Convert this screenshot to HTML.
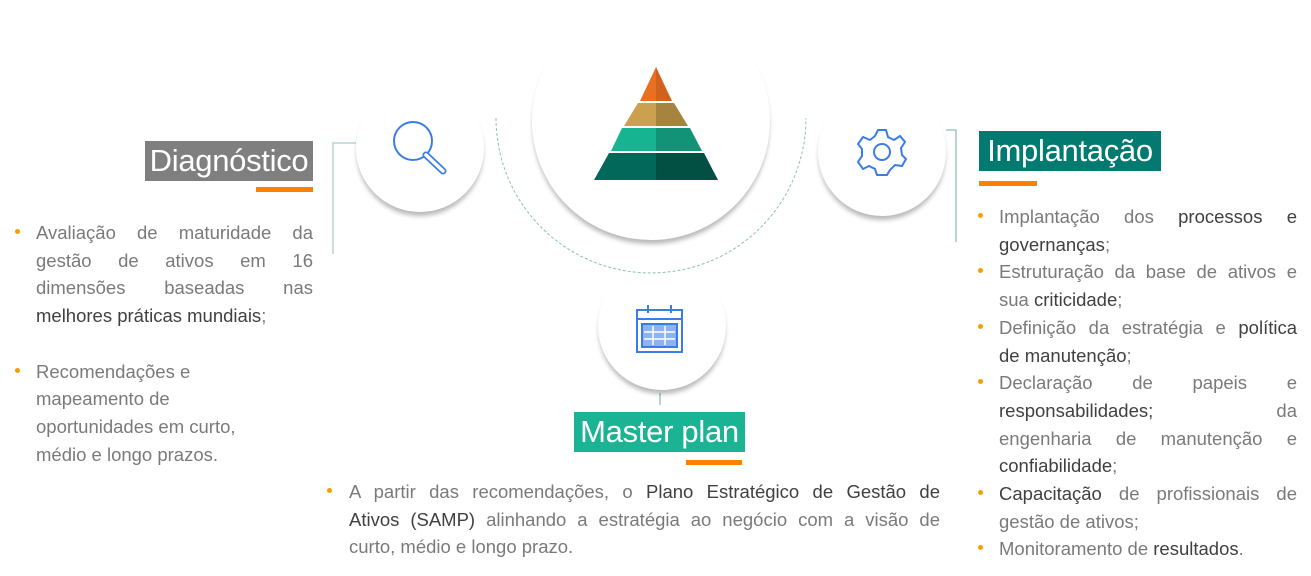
<!DOCTYPE html>
<html><head><meta charset="utf-8"><style>
body{margin:0;width:1311px;height:576px;background:#fff;position:relative;overflow:hidden;font-family:"Liberation Sans",sans-serif}
.abs{position:absolute}
.circ{position:absolute;border-radius:50%;background:#fff;box-shadow:0 5px 5px -1px rgba(0,0,0,.28)}
.list{position:absolute;color:#7a7a7a;font-size:18.5px;line-height:27.7px}
.l{text-align:justify;text-align-last:justify;white-space:nowrap}
.l.n{text-align-last:left}
b{font-weight:normal;color:#404040}
.dot{position:absolute;width:5px;height:5px;border-radius:50%;background:#f5a000}
.title{position:absolute;color:#fff;font-size:31px;line-height:40px;padding:0 2px;white-space:nowrap;overflow:hidden;letter-spacing:-0.3px;text-align:center}
.bar{position:absolute;background:#ff7f00;height:5px}
</style></head><body>
<svg class="abs" style="left:0;top:0" width="1311" height="576">
<polyline points="356,143 333,143 333,254" fill="none" stroke="#a9cdc6" stroke-width="1.3"/>
<polyline points="946,130 956,130 956,242" fill="none" stroke="#8fbfb5" stroke-width="1.3"/>
<line x1="660" y1="393" x2="660" y2="405" stroke="#8fbfb5" stroke-width="1.3"/>
</svg>
<div class="circ" style="left:532px;top:2px;width:238px;height:238px"></div>
<div class="circ" style="left:356px;top:84px;width:128px;height:128px"></div>
<div class="circ" style="left:818px;top:88px;width:128px;height:128px"></div>
<div class="circ" style="left:598px;top:262px;width:128px;height:128px"></div>
<svg class="abs" style="left:0;top:0" width="1311" height="576">
<path d="M496 118 A155 155 0 0 0 806 118" fill="none" stroke="#8fbfb5" stroke-width="1" stroke-dasharray="3,2"/>
<polygon points="656,67 640,101 656,101" fill="#e87020"/><polygon points="656,67 672,101 656,101" fill="#d0621d"/>
<polygon points="638,103 624,126 656,126 656,103" fill="#cba14f"/><polygon points="656,103 674,103 688,126 656,126" fill="#a6833f"/>
<polygon points="622,128 611,151 656,151 656,128" fill="#17b491"/><polygon points="656,128 690,128 702,151 656,151" fill="#129277"/>
<polygon points="609,153 594,180 656,180 656,153" fill="#02695a"/><polygon points="656,153 704,153 718,180 656,180" fill="#024f44"/>
<circle cx="413" cy="141" r="19" fill="none" stroke="#3b7de8" stroke-width="2"/>
<line x1="426" y1="155" x2="443" y2="171" stroke="#3b7de8" stroke-width="7" stroke-linecap="round"/>
<line x1="426" y1="155" x2="443" y2="171" stroke="#fff" stroke-width="3.5" stroke-linecap="round"/>
<g transform="translate(882,152)" fill="none" stroke="#3b7de8" stroke-width="2">
<path d="M-4,-22 L4,-22 L6,-15 L12,-12 L18,-16 L23,-10 L19,-4 L20,3 L24,7 L20,14 L13,13 L8,18 L5,23 L-5,23 L-7,17 L-13,14 L-19,17 L-24,10 L-20,4 L-20,-3 L-24,-8 L-19,-15 L-12,-12 L-7,-16 Z"/>
<circle r="8"/></g>
<g stroke="#3b7de8" fill="none" stroke-width="2">
<rect x="637" y="310" width="45" height="42"/><line x1="637" y1="319" x2="682" y2="319"/>
<line x1="648" y1="305" x2="648" y2="313"/><line x1="671" y1="305" x2="671" y2="313"/>
<rect x="642" y="324" width="35" height="23" fill="#8fb3f2"/>
<g stroke-width="1.5" stroke="#fff"><line x1="644" y1="332" x2="675" y2="332"/><line x1="644" y1="339" x2="675" y2="339"/><line x1="653" y1="326" x2="653" y2="345"/><line x1="665" y1="326" x2="665" y2="345"/></g>
</g>
</svg>
<div class="title" style="left:145px;top:141px;width:164px;background:#7f7f7f">Diagnóstico</div>
<div class="bar" style="left:256px;top:187px;width:57px"></div>
<div class="title" style="left:979px;top:131px;width:178px;background:#027a70">Implantação</div>
<div class="bar" style="left:979px;top:181px;width:58px"></div>
<div class="title" style="left:574px;top:412px;width:167px;background:#1ab494">Master plan</div>
<div class="bar" style="left:686px;top:460px;width:56px"></div>

<div class="dot" style="left:15px;top:229px"></div>
<div class="dot" style="left:15px;top:368px"></div>
<div class="list" style="left:36px;top:219px;width:277px">
<div class="l">Avaliação de maturidade da</div>
<div class="l">gestão de ativos em 16</div>
<div class="l">dimensões baseadas nas</div>
<div class="l n"><b>melhores práticas mundiais</b>;</div>
<div class="l n" style="margin-top:27.7px">Recomendações e</div>
<div class="l n">mapeamento de</div>
<div class="l n">oportunidades em curto,</div>
<div class="l n">médio e longo prazos.</div>
</div>

<div class="dot" style="left:327px;top:488px"></div>
<div class="list" style="left:349px;top:478px;width:591px">
<div class="l">A partir das recomendações, o <b>Plano Estratégico de Gestão de</b></div>
<div class="l"><b>Ativos (SAMP)</b> alinhando a estratégia ao negócio com a visão de</div>
<div class="l n">curto, médio e longo prazo.</div>
</div>

<div class="dot" style="left:978px;top:213px"></div>
<div class="dot" style="left:978px;top:268px"></div>
<div class="dot" style="left:978px;top:324px"></div>
<div class="dot" style="left:978px;top:379px"></div>
<div class="dot" style="left:978px;top:490px"></div>
<div class="dot" style="left:978px;top:545px"></div>
<div class="list" style="left:999px;top:203px;width:298px">
<div class="l">Implantação dos <b>processos e</b></div>
<div class="l n"><b>governanças</b>;</div>
<div class="l">Estruturação da base de ativos e</div>
<div class="l n">sua <b>criticidade</b>;</div>
<div class="l">Definição da estratégia e <b>política</b></div>
<div class="l n"><b>de manutenção</b>;</div>
<div class="l">Declaração de papeis e</div>
<div class="l"><b>responsabilidades;</b> da</div>
<div class="l">engenharia de manutenção e</div>
<div class="l n"><b>confiabilidade</b>;</div>
<div class="l"><b>Capacitação</b> de profissionais de</div>
<div class="l n">gestão de ativos;</div>
<div class="l n">Monitoramento de <b>resultados</b>.</div>
</div>
</body></html>
